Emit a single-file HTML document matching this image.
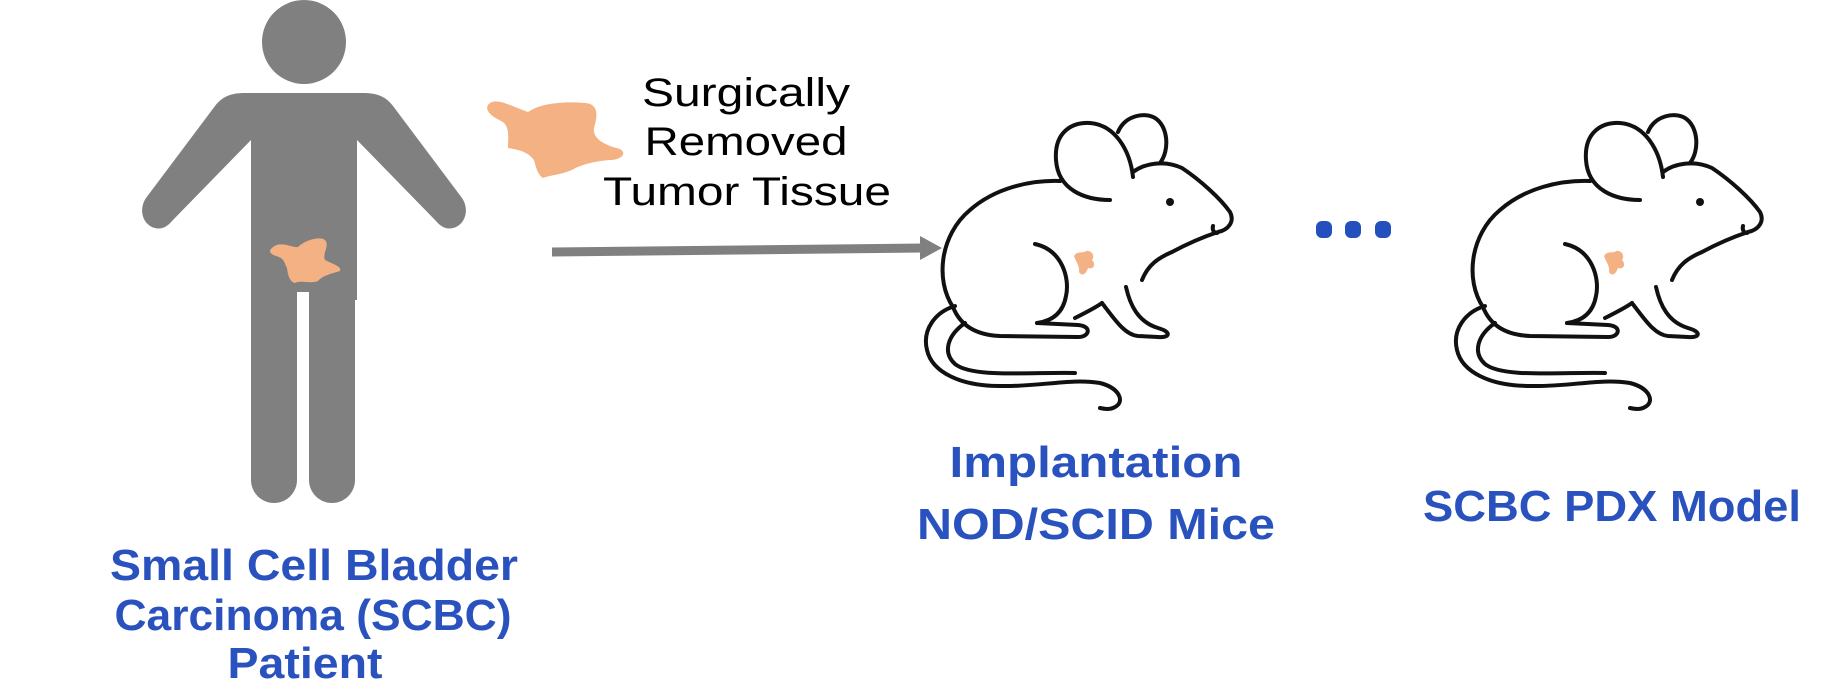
<!DOCTYPE html>
<html><head><meta charset="utf-8"><style>
html,body{margin:0;padding:0;background:#fff;}
svg{display:block;}
</style></head><body>
<svg width="1846" height="697" viewBox="0 0 1846 697" xmlns="http://www.w3.org/2000/svg">
<rect width="1846" height="697" fill="#fff"/>
<!-- person -->
<g fill="#808080">
<ellipse cx="304" cy="42" rx="42" ry="42"/>
<path d="M245,93 L363,93 C378,93 386,97 393,106 L462,198 C470,210 465,225 453,228 C446,230 440,226 436,221 L357,140 L357,300 L251,300 L251,140 L172,221 C168,226 162,230 155,228 C143,225 138,210 146,198 L215,106 C222,97 230,93 245,93 Z"/>
<path d="M251,290 L297,290 L297,480 A23,23 0 0 1 251,480 Z"/>
<path d="M309,290 L355,290 L355,480 A23,23 0 0 1 309,480 Z"/>
<rect x="297" y="292" width="12" height="220" fill="#fff"/>
</g>
<path d="M272,248 C280,240 292,248 298,247 C305,240 320,236 325,240 C330,245 322,254 325,260 C332,264 342,266 340,271 C330,274 322,276 318,281 C310,284 300,280 295,283 C290,282 288,276 287,268 C284,262 284,258 276,256 C270,254 268,251 272,248 Z" fill="#f4b183"/>
<!-- removed tissue -->
<path d="M488,105 C495,96 510,106 528,112 C540,104 560,101 585,103 C600,104 597,118 594,128 C592,140 608,146 620,149 C628,154 620,160 610,160 C595,161 580,165 572,170 C560,175 550,175 543,178 C538,175 536,168 534,160 C528,152 520,150 508,148 C508,138 510,128 503,122 C495,118 484,112 488,105 Z" fill="#f4b183"/>
<!-- label -->
<g font-family="'Liberation Sans', sans-serif" font-size="40" fill="#000" text-anchor="middle">
<text x="746" y="106" textLength="208" lengthAdjust="spacingAndGlyphs">Surgically</text>
<text x="746" y="155" textLength="203" lengthAdjust="spacingAndGlyphs">Removed</text>
<text x="747" y="205" textLength="288" lengthAdjust="spacingAndGlyphs">Tumor Tissue</text>
</g>
<!-- arrow -->
<line x1="552" y1="252" x2="924" y2="248" stroke="#808080" stroke-width="9"/>
<polygon points="920,236 942,248 920,260" fill="#808080"/>
<!-- mouse -->
<g id="mouse" fill="none" stroke="#111" stroke-width="4" stroke-linecap="round" stroke-linejoin="round">
<path d="M1060,181 C1030,180 995,188 970,210 C940,235 935,280 953,307 C960,325 975,335 1000,336 L1078,337 C1090,337 1092,326 1078,325 L1037,323"/>
<path d="M1035,244 C1062,250 1070,278 1066,296 C1063,313 1052,321 1037,323"/>
<path d="M1075,318 C1085,313 1095,308 1102,303"/>
<path d="M1110,200 C1085,200 1058,190 1056,160 C1054,132 1072,122 1090,123 C1115,125 1130,150 1133,177"/>
<path d="M1118,132 C1125,115 1145,112 1155,118 C1168,126 1170,150 1160,163"/>
<path d="M1133,172 C1145,163 1165,160 1182,168 C1200,180 1220,198 1230,212 C1235,222 1228,230 1218,232 C1200,238 1185,245 1172,252 C1158,258 1148,265 1142,280"/>
<path d="M1213,226 C1212,230 1214,233 1217,233"/>
<path d="M1126,287 C1130,305 1138,322 1158,328 C1172,332 1170,338 1158,337 L1138,336 C1125,335 1115,320 1102,303"/>
<path d="M955,306 C935,312 922,330 927,350 C932,372 960,386 1000,386 C1040,387 1070,378 1100,383 C1120,388 1125,402 1115,407 C1110,410 1104,409 1100,408"/>
<path d="M965,323 C948,335 942,352 955,364 C972,378 1030,372 1075,373"/>
<circle cx="1170" cy="202" r="4" fill="#111" stroke="none"/>
<path d="M1074,256 C1078,250 1083,254 1086,251 C1092,250 1095,256 1092,260 C1096,264 1094,270 1088,268 C1086,274 1082,277 1079,272 C1080,266 1076,262 1074,256 Z" fill="#f4b183" stroke="none"/>
</g>
<use href="#mouse" transform="translate(530,0)"/>
<!-- dots -->
<g fill="#2350bd">
<rect x="1316" y="221" width="16" height="17" rx="6"/>
<rect x="1345" y="221" width="16" height="17" rx="6"/>
<rect x="1375" y="221" width="16" height="17" rx="6"/>
</g>
<!-- blue labels -->
<g font-family="'Liberation Sans', sans-serif" font-weight="bold" font-size="44" fill="#2a52be" text-anchor="middle">
<text x="314" y="580" textLength="408" lengthAdjust="spacingAndGlyphs">Small Cell Bladder</text>
<text x="313" y="630" textLength="397" lengthAdjust="spacingAndGlyphs">Carcinoma (SCBC)</text>
<text x="305" y="678" textLength="155" lengthAdjust="spacingAndGlyphs">Patient</text>
<text x="1096" y="477" textLength="293" lengthAdjust="spacingAndGlyphs">Implantation</text>
<text x="1096" y="539" textLength="358" lengthAdjust="spacingAndGlyphs">NOD/SCID Mice</text>
<text x="1612" y="521" textLength="378" lengthAdjust="spacingAndGlyphs">SCBC PDX Model</text>
</g>
</svg>
</body></html>
